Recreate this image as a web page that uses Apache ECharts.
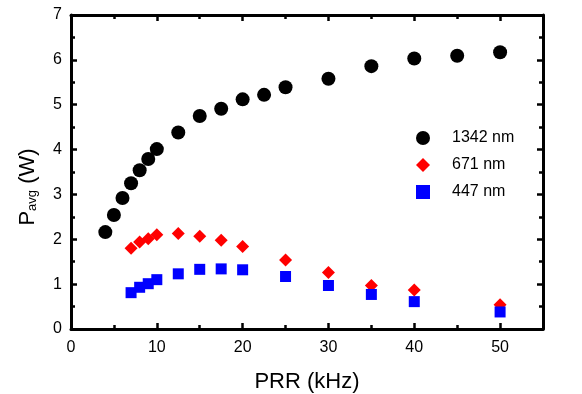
<!DOCTYPE html>
<html>
<head>
<meta charset="utf-8">
<script src="https://cdn.jsdelivr.net/npm/echarts@6/dist/echarts.min.js"></script>
<style>html,body{margin:0;padding:0;background:#fff}#c{width:582px;height:394px}</style>
</head>
<body>
<div id="c"></div>
<script>
const seriesNames = ['1342 nm', '671 nm', '447 nm'];
const prr1342 = [4, 5, 6, 7, 8, 9, 10, 12.5, 15, 17.5, 20, 22.5, 25, 30, 35, 40, 45, 50];
const p1342 = [2.16, 2.54, 2.92, 3.25, 3.54, 3.79, 4.01, 4.38, 4.75, 4.91, 5.12, 5.22, 5.39, 5.58, 5.86, 6.03, 6.09, 6.17];
const prr671 = [7, 8, 9, 10, 12.5, 15, 17.5, 20, 25, 30, 35, 40, 50];
const p671 = [1.80, 1.94, 2.01, 2.10, 2.13, 2.07, 1.98, 1.84, 1.54, 1.26, 0.97, 0.87, 0.54];
const prr447 = [7, 8, 9, 10, 12.5, 15, 17.5, 20, 25, 30, 35, 40, 50];
const p447 = [0.81, 0.93, 1.01, 1.10, 1.23, 1.33, 1.34, 1.32, 1.17, 0.97, 0.77, 0.61, 0.38];

const zip = (xs, ys) => xs.map((x, i) => [x, ys[i]]);
const font = 'Liberation Sans, Arial, sans-serif';
const chart = echarts.init(document.getElementById('c'), null, {renderer: 'canvas'});
const axisLine = {show: true, onZero: false, lineStyle: {color: '#000', width: 3}};
const tick = {show: true, inside: true, length: 6, lineStyle: {color: '#000', width: 2.5}};
const minor = {show: true, splitNumber: 2, length: 4, lineStyle: {color: '#000', width: 2.5}};
chart.setOption({
  animation: false,
  backgroundColor: '#fff',
  grid: {left: 71, right: 39, top: 15, bottom: 65, containLabel: false, outerBoundsMode: 'none'},
  legend: {
    orient: 'vertical', left: 411, top: 125, itemGap: 11, itemWidth: 14, itemHeight: 14,
    textStyle: {fontFamily: font, fontSize: 16, color: '#000', padding: [0, 0, 0, 17]},
    data: seriesNames
  },
  xAxis: [{
    type: 'value', min: 0, max: 55, interval: 10, position: 'bottom',
    axisLine, axisTick: tick, minorTick: minor, splitLine: {show: false},
    axisLabel: {showMaxLabel: false, fontFamily: font, fontSize: 16, color: '#000', margin: 11},
    name: 'PRR (kHz)', nameLocation: 'middle', nameGap: 42,
    nameTextStyle: {fontFamily: font, fontSize: 22, color: '#000'}
  }, {
    type: 'value', min: 0, max: 55, interval: 10, position: 'top',
    axisLine, axisTick: tick, minorTick: minor, splitLine: {show: false},
    axisLabel: {show: false}
  }],
  yAxis: [{
    type: 'value', min: 0, max: 7, interval: 1, position: 'left',
    axisLine, axisTick: tick, minorTick: minor, splitLine: {show: false},
    axisLabel: {fontFamily: font, fontSize: 16, color: '#000', margin: 9},
    name: '{a|P}{b|avg}{a| (W)}', nameLocation: 'middle', nameGap: 32, nameRotate: 90,
    nameTextStyle: {
      fontFamily: font, color: '#000', padding: [0, 30, 0, 0],
      rich: {
        a: {fontFamily: font, fontSize: 22, color: '#000', verticalAlign: 'bottom', lineHeight: 26},
        b: {fontFamily: font, fontSize: 13, color: '#000', verticalAlign: 'bottom', lineHeight: 18}
      }
    }
  }, {
    type: 'value', min: 0, max: 7, interval: 1, position: 'right',
    axisLine, axisTick: tick, minorTick: minor, splitLine: {show: false},
    axisLabel: {show: false}
  }],
  series: [
    {name: seriesNames[0], type: 'scatter', symbol: 'circle', symbolSize: 14, itemStyle: {color: '#000', opacity: 1}, data: zip(prr1342, p1342)},
    {name: seriesNames[1], type: 'scatter', symbol: 'diamond', symbolSize: 13, itemStyle: {color: '#ff0000', opacity: 1}, data: zip(prr671, p671)},
    {name: seriesNames[2], type: 'scatter', symbol: 'rect', symbolSize: 11, itemStyle: {color: '#0000ff', opacity: 1}, data: zip(prr447, p447), z: 3}
  ]
});
</script>
</body>
</html>
